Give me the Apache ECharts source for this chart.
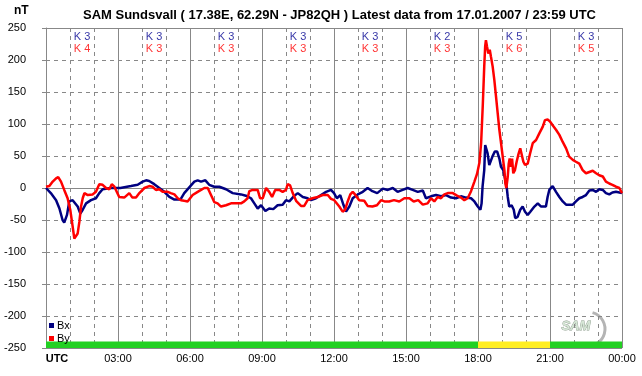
<!DOCTYPE html>
<html><head><meta charset="utf-8">
<script src="https://cdn.jsdelivr.net/npm/echarts@6/dist/echarts.min.js"></script>
<style>html,body{margin:0;padding:0;background:#fff}#c{width:642px;height:376px}</style>
</head><body><div id="c"></div>
<script>
// ---- data (hours UTC, nT) ----
const bxTime = [0,0.2,0.42,0.56,0.69,0.76,0.875,0.97,1.11,1.18,1.32,1.43,1.53,1.67,1.875,2.08,2.22,2.36,2.7,3.1,3.54,3.82,4.03,4.17,4.3,4.51,4.72,4.93,5.14,5.35,5.6,5.76,5.97,6.18,6.32,6.46,6.64,6.8,7.01,7.22,7.5,7.78,8.125,8.33,8.54,8.68,8.82,8.96,9.14,9.3,9.47,9.65,9.86,10.0,10.14,10.35,10.49,10.7,10.9,11.04,11.25,11.46,11.67,11.875,12.0,12.12,12.26,12.4,12.5,12.64,12.78,12.99,13.2,13.4,13.6,13.8,14.03,14.24,14.45,14.65,14.86,15.07,15.28,15.49,15.7,15.83,16.04,16.25,16.46,16.67,16.875,17.08,17.29,17.5,17.71,17.85,17.99,18.1,18.15,18.19,18.26,18.3,18.33,18.4,18.47,18.54,18.6,18.7,18.8,18.89,18.96,19.05,19.125,19.2,19.24,19.3,19.4,19.49,19.55,19.65,19.76,19.86,19.96,20.07,20.18,20.35,20.49,20.63,20.83,20.9,20.97,21.11,21.25,21.39,21.53,21.67,21.95,22.08,22.22,22.36,22.5,22.64,22.78,22.92,23.05,23.2,23.33,23.47,23.6,23.75,23.89,24];
const bxVal  = [0,-8,-19,-32,-50,-54,-42,-21,-19,-16,-29,-40,-34,-24,-19,-16,-8,-2,0,0,3,5,10,12,11,6,0,-6,-14,-18,-18,-8,1,10,12,10,12,5,2,2,-2,-8,-10,-12,-16,-24,-32,-27,-36,-32,-33,-27,-26,-19,-21,-12,-8,-14,-16,-19,-16,-11,-6,-3,-8,-16,-11,-27,-37,-29,-16,-10,-6,0,-5,-8,-1,-3,0,-6,-3,0,-3,-6,-4,-16,-13,-11,-13,-11,-15,-16,-13,-15,-16,-21,-29,-34,-24,2,28,67,67,54,36,38,49,57,57,46,33,28,15,0,-14,-29,-27,-34,-47,-45,-34,-29,-37,-42,-37,-29,-24,-29,-29,-14,-3,3,-6,-14,-21,-26,-26,-21,-16,-14,-11,-4,-3,-6,-2,-3,-8,-10,-7,-6,-7,-8];
const byTime = [0,0.14,0.28,0.42,0.51,0.625,0.76,0.9,1.01,1.11,1.18,1.25,1.32,1.39,1.46,1.53,1.6,1.74,1.94,2.08,2.22,2.36,2.5,2.64,2.74,2.85,3.05,3.26,3.47,3.6,3.75,3.89,4.1,4.3,4.44,4.58,4.72,4.86,5.07,5.2,5.35,5.49,5.625,5.76,5.9,5.97,6.11,6.32,6.46,6.6,6.74,6.875,7.01,7.15,7.29,7.5,7.71,7.92,8.125,8.26,8.4,8.47,8.61,8.82,8.92,9.03,9.17,9.3,9.42,9.55,9.72,9.86,10.0,10.07,10.17,10.28,10.42,10.625,10.76,10.9,11.1,11.32,11.53,11.74,11.875,12.01,12.08,12.22,12.36,12.46,12.57,12.68,12.78,12.875,13.05,13.26,13.4,13.6,13.79,13.96,14.1,14.3,14.5,14.72,14.93,15.14,15.32,15.51,15.7,15.9,16.04,16.18,16.32,16.46,16.6,16.74,16.95,17.125,17.29,17.43,17.57,17.71,17.85,17.96,18.06,18.13,18.2,18.26,18.3,18.33,18.375,18.43,18.49,18.54,18.61,18.68,18.75,18.82,18.89,18.96,19.03,19.1,19.14,19.18,19.24,19.28,19.32,19.375,19.42,19.47,19.54,19.61,19.68,19.76,19.82,19.89,19.96,20.07,20.17,20.28,20.42,20.55,20.7,20.79,20.9,21.0,21.11,21.25,21.39,21.53,21.67,21.8,21.95,22.08,22.22,22.36,22.5,22.64,22.78,22.92,23.05,23.2,23.33,23.47,23.6,23.75,23.89,24];
const byVal  = [2,3,10,15,17,10,-3,-16,-34,-60,-79,-80,-71,-53,-29,-16,-8,-11,-10,-6,6,5,0,-2,6,2,-14,-15,-8,-15,-15,-8,0,3,2,-3,-2,-6,-6,-8,-10,-16,-19,-20,-21,-20,-11,-6,-3,0,0,-11,-22,-24,-29,-27,-24,-24,-24,-21,-16,-5,-3,-3,-16,-16,0,-6,-14,-3,-3,-6,-3,6,4,-8,-20,-28,-28,-19,-16,-14,-11,-11,-17,-19,-22,-29,-37,-34,-21,-10,-6,-10,-19,-20,-28,-29,-27,-19,-21,-21,-19,-21,-16,-16,-21,-19,-26,-24,-16,-21,-14,-16,-10,-8,-8,-12,-15,-19,-16,-5,10,22,40,70,130,190,222,231,221,210,216,205,190,169,143,117,91,70,49,28,7,0,18,38,46,33,46,23,28,41,52,62,59,41,36,38,54,70,75,85,96,106,107,104,98,91,83,72,62,49,44,41,38,28,23,25,27,23,20,18,10,7,5,2,0,-8];
const kBlockCentre = [1.5,4.5,7.5,10.5,13.5,16.5,19.5,22.5];
const kIndexBx = [3,3,3,3,3,2,5,3];
const kIndexBy = [4,3,3,3,3,3,6,5];
const xTickHours = [0,3,6,9,12,15,18,21,24];
const xTickLabels = ['UTC','03:00','06:00','09:00','12:00','15:00','18:00','21:00','00:00'];
const statusSegments = [[0,18,'quiet'],[18,21,'storm'],[21,24,'quiet']];

// ---- chart ----
const FONT = 'Liberation Sans, Arial, sans-serif';
const GRID = '#888';
const statusColor = {quiet:'#22d022', storm:'#ffee22'};
const zip = (t,v) => t.map((x,i)=>[x,v[i]]);
const chart = echarts.init(document.getElementById('c'), null, {renderer:'canvas'});
const KROW_BX = 236, KROW_BY = 217;
chart.setOption({
  animation:false,
  backgroundColor:'#fff',
  textStyle:{fontFamily:FONT},
  title:{text:'SAM Sundsvall ( 17.38E, 62.29N - JP82QH ) Latest data from 17.01.2007 / 23:59 UTC',
    left:78, top:4, textStyle:{fontFamily:FONT, fontSize:13, fontWeight:'bold', color:'#000'}},
  legend:{data:['Bx','By'], orient:'vertical', left:49, top:319, itemWidth:5, itemHeight:5, itemGap:0, padding:0,
    icon:'rect', textStyle:{fontFamily:FONT, fontSize:11, color:'#000', lineHeight:13, padding:[0,0,0,-2]}},
  graphic:[
    {type:'text', left:14, top:5, style:{text:'nT', font:'bold 12px '+FONT, fill:'#000'}},
    {type:'arc', shape:{cx:588, cy:329, r:17, startAngle:-1.3, endAngle:1.0}, style:{stroke:'#b4b4b4', lineWidth:3, fill:null}},
    {type:'text', left:561, top:320, style:{text:'SAM', font:'italic bold 13px '+FONT, fill:'#d6e6d6', stroke:'#8c9c8c', lineWidth:0.8}}
  ],
  grid:{left:46, right:20, top:28, bottom:28, containLabel:false},
  xAxis:[
    {type:'value', min:0, max:24, interval:1,
     axisLine:{show:true, lineStyle:{color:GRID, width:1}},
     axisTick:{show:true, length:3, lineStyle:{color:GRID}},
     splitLine:{show:true, lineStyle:{color:GRID, type:[4,4], width:1}},
     axisLabel:{margin:5, fontSize:11, color:'#000', fontFamily:FONT,
       formatter:v=>{const i=xTickHours.indexOf(v); if(i<0) return ''; return i===0?'{u|'+xTickLabels[i]+'}':xTickLabels[i];},
       rich:{u:{fontWeight:'bold', fontSize:11, fontFamily:FONT, padding:[0,0,0,22]}}}},
    {type:'value', min:0, max:24, interval:3, position:'top',
     axisLine:{show:false}, axisTick:{show:false}, axisLabel:{show:false},
     splitLine:{show:true, lineStyle:{color:GRID, type:'solid', width:1}}}
  ],
  yAxis:[
    {type:'value', min:-250, max:250, interval:50,
     axisLine:{show:true, lineStyle:{color:GRID}},
     axisTick:{show:true, length:4, lineStyle:{color:GRID}},
     splitLine:{show:true, lineStyle:{color:GRID, type:[4,4], width:1}},
     axisLabel:{margin:20, fontSize:11, color:'#000', fontFamily:FONT}},
    {type:'value', min:-250, max:250, interval:250, position:'right',
     axisLine:{show:false}, axisTick:{show:false}, axisLabel:{show:false},
     splitLine:{show:true, lineStyle:{color:GRID, type:'solid', width:1}}}
  ],
  series:[
    {name:'Bx', type:'line', data:zip(bxTime,bxVal), showSymbol:false, symbol:'rect',
     itemStyle:{color:'#000080'}, lineStyle:{color:'#000080', width:2.5}, z:3,
     markArea:{silent:true, data:statusSegments.map(s=>[{xAxis:s[0], yAxis:-250, itemStyle:{color:statusColor[s[2]]}},{xAxis:s[1], yAxis:-240}])}},
    {name:'By', type:'line', data:zip(byTime,byVal), showSymbol:false, symbol:'rect',
     itemStyle:{color:'#ff0000'}, lineStyle:{color:'#ff0000', width:2.5}, z:4},
    {type:'scatter', data:kBlockCentre.map((c,i)=>[c,KROW_BX,kIndexBx[i]]), symbolSize:1, itemStyle:{color:'rgba(0,0,0,0)'},
     label:{show:true, position:'inside', formatter:p=>'K '+p.data[2], color:'#000090', fontSize:11, fontFamily:FONT}},
    {type:'scatter', data:kBlockCentre.map((c,i)=>[c,KROW_BY,kIndexBy[i]]), symbolSize:1, itemStyle:{color:'rgba(0,0,0,0)'},
     label:{show:true, position:'inside', formatter:p=>'K '+p.data[2], color:'#ff0000', fontSize:11, fontFamily:FONT}}
  ]
});
</script></body></html>
